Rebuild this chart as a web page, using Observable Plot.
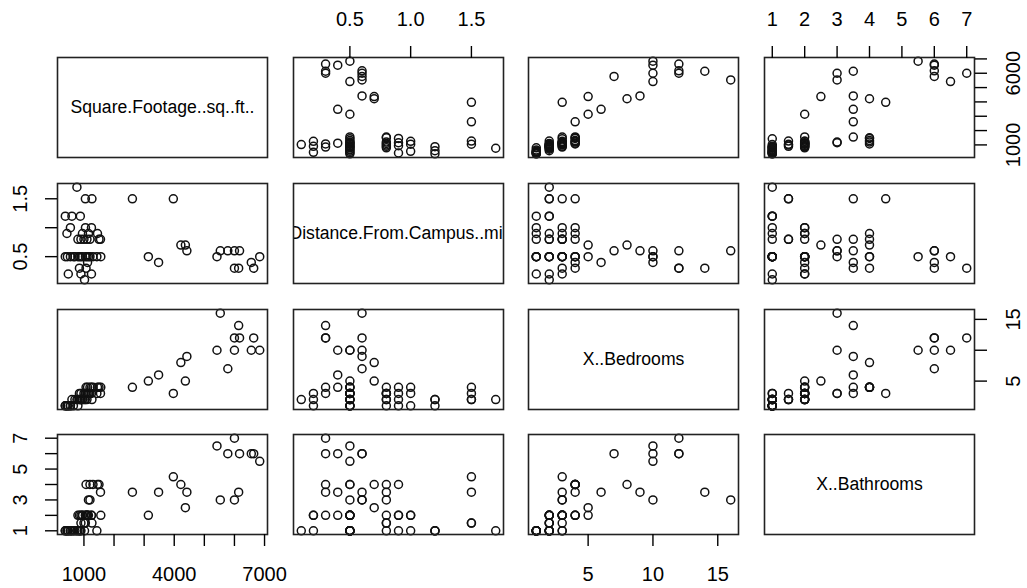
<!DOCTYPE html>
<html>
<head>
<meta charset="utf-8">
<script src="https://cdn.jsdelivr.net/npm/d3@7"></script>
<script src="https://cdn.jsdelivr.net/npm/@observablehq/plot@0.6"></script>
<style>
  html, body { margin: 0; padding: 0; background: #ffffff; }
  #chart { position: relative; width: 1027px; height: 588px; overflow: hidden; background: #ffffff;
           font-family: "Liberation Sans", Arial, Helvetica, sans-serif; }
  #chart svg { position: absolute; overflow: visible; }
</style>
</head>
<body>
<div id="chart"></div>
<script>
// Variable names (diagonal labels)
const variables = ["Square.Footage..sq..ft..", "Distance.From.Campus..mi.", "X..Bedrooms", "X..Bathrooms"];

const squareFootage = [
  5530, 6140, 6000, 6170, 6640, 5420, 6000, 6560, 6840, 5780, 4420, 4220, 3480, 3140, 2610, 4370, 3970,
  1020, 480, 900, 1250, 850, 1070, 1120,
  380, 450, 550, 650, 700, 850, 800, 950, 900, 1050, 1100, 1150, 1430, 1200, 1300, 1560,
  800, 900, 1000, 1100, 1200, 1550, 1500,
  435, 950, 1150, 1450,
  550, 1050, 1250,
  381, 600, 880,
  1047, 1266,
  767
];
const distance = [
  0.6, 0.3, 0.3, 0.6, 0.3, 0.5, 0.6, 0.4, 0.5, 0.6, 0.6, 0.7, 0.4, 0.5, 1.5, 0.7, 1.5,
  0.1, 0.2, 0.2, 0.2, 0.3, 0.3, 0.4,
  0.5, 0.5, 0.5, 0.5, 0.5, 0.5, 0.5, 0.5, 0.5, 0.5, 0.5, 0.5, 0.5, 0.5, 0.5, 0.5,
  0.8, 0.8, 0.8, 0.8, 0.8, 0.8, 0.8,
  0.9, 0.9, 0.9, 0.9,
  1.0, 1.0, 1.0,
  1.2, 1.2, 1.2,
  1.5, 1.5,
  1.7
];
const bedrooms = [
  16, 14, 12, 12, 12, 10, 10, 10, 10, 7, 9, 8, 6, 5, 4, 5, 3,
  2, 1, 2, 3, 3, 4, 4,
  1, 1, 1, 1, 2, 2, 2, 2, 3, 3, 3, 3, 3, 4, 4, 4,
  1, 2, 3, 2, 3, 3, 4,
  1, 2, 3, 4,
  1, 3, 4,
  1, 2, 2,
  2, 2,
  2
];
const bathrooms = [
  3, 3.5, 7, 6, 6, 6.5, 3, 6, 5.5, 6, 3.5, 4, 3.5, 2, 3.5, 2.5, 4.5,
  1, 1, 2, 2, 2, 4, 2,
  1, 1, 1, 1, 1, 1, 2, 2, 1, 2, 2, 3, 1, 4, 4, 2,
  1, 1.5, 1.5, 2, 3, 3.5, 4,
  1, 2, 2, 4,
  1, 2, 2,
  1, 1, 1,
  1.5, 1.5,
  1
];

// Axis ticks and which of them carry a label
const tickValues = [
  [1000, 2000, 3000, 4000, 5000, 6000, 7000],
  [0.5, 1.0, 1.5],
  [5, 10, 15],
  [1, 2, 3, 4, 5, 6, 7]
];
const columnTickLabels = [[1000, 4000, 7000], [0.5, 1.0, 1.5], [5, 10, 15], [1, 2, 3, 4, 5, 6, 7]];
const rowTickLabels = [[1000, 6000], [0.5, 1.5], [5, 15], [1, 3, 5, 7]];

const series = [squareFootage, distance, bedrooms, bathrooms];
const formats = [d3.format("d"), d3.format(".1f"), d3.format("d"), d3.format("d")];
const domains = series.map(v => {
  const [a, b] = d3.extent(v);
  const pad = (b - a) * 0.04;
  return [a - pad, b + pad];
});
const index = d3.range(squareFootage.length);

const PW = 210, PH = 100, M = 50;
const X0 = 56.7, Y0 = 57.3, SX = 235.8, SY = 125.6;
const FONT = '"Liberation Sans", Arial, Helvetica, sans-serif';
const chart = document.getElementById("chart");

for (let r = 0; r < 4; r++) {
  for (let c = 0; c < 4; c++) {
    const marks = [];
    const xAxis = (c % 2 === 0 && r === 3) ? "bottom" : (c % 2 === 1 && r === 0) ? "top" : null;
    const yAxis = (r % 2 === 0 && c === 3) ? "right" : (r % 2 === 1 && c === 0) ? "left" : null;
    const opts = {
      width: PW + 2 * M,
      height: PH + 2 * M,
      margin: M,
      style: {background: "transparent", overflow: "visible", fontFamily: FONT, color: "black"}
    };
    if (r === c) {
      marks.push(Plot.text([variables[r]], {
        frameAnchor: "middle", text: d => d, fontSize: 17.6, fill: "black", clip: true
      }));
    } else {
      opts.x = {domain: domains[c]};
      opts.y = {domain: domains[r]};
      if (!xAxis) opts.x.axis = null;
      if (!yAxis) opts.y.axis = null;
      marks.push(Plot.dot(index, {
        x: i => series[c][i], y: i => series[r][i],
        r: 4, stroke: "#111", strokeWidth: 1.5, fill: "none"
      }));
    }
    marks.push(Plot.frame({stroke: "#222", strokeWidth: 1.6}));
    if (xAxis) {
      marks.push(Plot.axisX({
        anchor: xAxis, ticks: tickValues[c], tickSize: 12, tickPadding: 20,
        tickFormat: d => columnTickLabels[c].includes(d) ? formats[c](d) : "",
        fontSize: 20, strokeWidth: 1.4, label: null
      }));
    }
    if (yAxis) {
      marks.push(Plot.axisY({
        anchor: yAxis, ticks: tickValues[r], tickSize: 12, tickPadding: 19,
        tickRotate: -90, textAnchor: "middle",
        lineAnchor: yAxis === "right" ? "top" : "bottom",
        tickFormat: d => rowTickLabels[r].includes(d) ? formats[r](d) : "",
        fontSize: 20, strokeWidth: 1.4, label: null
      }));
    }
    opts.marks = marks;
    const svg = Plot.plot(opts);
    svg.style.left = (X0 + c * SX - M) + "px";
    svg.style.top = (Y0 + r * SY - M) + "px";
    chart.appendChild(svg);
  }
}
</script>
</body>
</html>
